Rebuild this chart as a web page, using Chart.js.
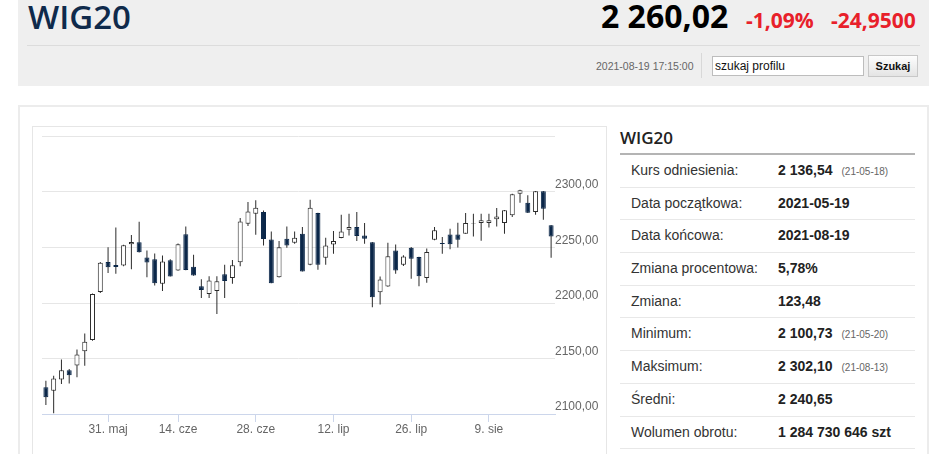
<!DOCTYPE html>
<html>
<head>
    <title>WIG20</title>
    <meta charset="UTF-8">
    <script src="https://cdn.jsdelivr.net/npm/chart.js"></script>
    <style>
        body {
            margin: 0;
            background-color: #fff;
            font-family: "Liberation Sans", Arial, sans-serif;
            width: 948px;
            height: 454px;
            overflow: hidden;
            position: relative;
        }
        .abs { position: absolute; white-space: nowrap; }
        .hdr {
            left: 18px; top: 0; width: 911px; height: 86px;
            background-color: #efefef;
        }
        .ttl {
            left: 28px; top: -6px; line-height: 45px;
            font-family: "Open Sans", sans-serif; font-weight: 600; font-size: 33px;
            color: #0f2a4b;
        }
        .price {
            left: 601px; top: -6px; line-height: 44px;
            font-family: "Open Sans", sans-serif; font-weight: 700; font-size: 32px;
            color: #000;
        }
        .chg {
            top: 5px; line-height: 30px;
            font-family: "Open Sans", sans-serif; font-weight: 700; font-size: 21px;
            color: #e8202a;
        }
        .sep { left: 27px; top: 45px; width: 893px; height: 1px; background: #dcdcdc; }
        .stamp { left: 596px; top: 59px; font-size: 10.5px; line-height: 14px; color: #666; }
        .vdiv { left: 701px; top: 53px; width: 1px; height: 25px; background: #d8d8d8; }
        .search {
            left: 712px; top: 56px; width: 152px; height: 20px; box-sizing: border-box;
            border: 1px solid #bdbdbd; background: #fff;
            font-size: 12px; line-height: 18px; padding-left: 2px; color: #111;
        }
        .btn {
            left: 868px; top: 55px; width: 50px; height: 22px; box-sizing: border-box;
            border: 1px solid #c8c8c8; background: linear-gradient(#fdfdfd, #e4e4e4);
            font-size: 11px; font-weight: bold; line-height: 20px; text-align: center; color: #111;
        }
        .panel {
            left: 18px; top: 105px; width: 911px; height: 370px; box-sizing: border-box;
            border: 2px solid #ececec;
        }
        .chart-box {
            left: 32px; top: 126px; width: 575px; height: 350px; box-sizing: border-box;
            border: 1px solid #e6e6e6;
        }
        .chart-wrap { left: 33px; top: 127px; width: 574px; height: 327px; }
        .info { left: 620px; top: 126px; width: 295px; }
        .info h2 {
            margin: 0; height: 27px; line-height: 23px;
            font-family: "Open Sans", sans-serif; font-weight: 600; font-size: 17px; color: #222;
            border-bottom: 2px solid #b4b4b4;
        }
        .row {
            position: relative; height: 31.7px; line-height: 31px;
            border-bottom: 1px solid #e8e8e8; font-size: 14px;
        }
        .row .lab { position: absolute; left: 11px; color: #333; }
        .row .val { position: absolute; left: 158px; color: #222; font-weight: bold; }
        .row .d { font-size: 10px; font-weight: normal; color: #666; margin-left: 9px; }
    </style>
</head>
<body>
    <div class="abs hdr"></div>
    <div class="abs ttl">WIG20</div>
    <div class="abs price">2 260,02</div>
    <div class="abs chg" style="left: 746px;">-1,09%</div>
    <div class="abs chg" style="left: 831px;">-24,9500</div>
    <div class="abs sep"></div>
    <div class="abs stamp">2021-08-19 17:15:00</div>
    <div class="abs vdiv"></div>
    <div class="abs search">szukaj profilu</div>
    <div class="abs btn">Szukaj</div>

    <div class="abs panel"></div>
    <div class="abs chart-box"></div>
    <div class="abs chart-wrap"><canvas id="candles"></canvas></div>

    <div class="abs info">
        <h2>WIG20</h2>
        <div class="row"><span class="lab">Kurs odniesienia:</span><span class="val">2 136,54<span class="d">(21-05-18)</span></span></div>
        <div class="row"><span class="lab">Data początkowa:</span><span class="val">2021-05-19</span></div>
        <div class="row"><span class="lab">Data końcowa:</span><span class="val">2021-08-19</span></div>
        <div class="row"><span class="lab">Zmiana procentowa:</span><span class="val">5,78%</span></div>
        <div class="row"><span class="lab">Zmiana:</span><span class="val">123,48</span></div>
        <div class="row"><span class="lab">Minimum:</span><span class="val">2 100,73<span class="d">(21-05-20)</span></span></div>
        <div class="row"><span class="lab">Maksimum:</span><span class="val">2 302,10<span class="d">(21-08-13)</span></span></div>
        <div class="row"><span class="lab">Średni:</span><span class="val">2 240,65</span></div>
        <div class="row"><span class="lab">Wolumen obrotu:</span><span class="val">1 284 730 646 szt</span></div>
    </div>

    <script>
        // sesje GPW (3 cze - Boze Cialo, bez sesji)
        const dates = [
            '2021-05-19','2021-05-20','2021-05-21','2021-05-24','2021-05-25','2021-05-26','2021-05-27','2021-05-28',
            '2021-05-31','2021-06-01','2021-06-02','2021-06-04','2021-06-07','2021-06-08','2021-06-09','2021-06-10','2021-06-11',
            '2021-06-14','2021-06-15','2021-06-16','2021-06-17','2021-06-18','2021-06-21','2021-06-22','2021-06-23','2021-06-24','2021-06-25',
            '2021-06-28','2021-06-29','2021-06-30','2021-07-01','2021-07-02','2021-07-05','2021-07-06','2021-07-07','2021-07-08','2021-07-09',
            '2021-07-12','2021-07-13','2021-07-14','2021-07-15','2021-07-16','2021-07-19','2021-07-20','2021-07-21','2021-07-22','2021-07-23',
            '2021-07-26','2021-07-27','2021-07-28','2021-07-29','2021-07-30','2021-08-02','2021-08-03','2021-08-04','2021-08-05','2021-08-06',
            '2021-08-09','2021-08-10','2021-08-11','2021-08-12','2021-08-13','2021-08-16','2021-08-17','2021-08-18','2021-08-19'
        ];
        const open = [
            2124, 2121, 2131, 2139.5, 2143.8, 2156.5, 2166.6, 2210,
            2237, 2234.3, 2233.8, 2253, 2254.8, 2241, 2239.4, 2217.3, 2238.5,
            2229.2, 2262, 2232.6, 2215.2, 2208.2, 2210.7, 2225.8, 2222.5, 2236.8, 2271.4,
            2280.4, 2281.9, 2257.3, 2223.2, 2257.9, 2254.2, 2262.4, 2234.4, 2281, 2240.7,
            2252.7, 2258.5, 2266, 2268.4, 2260.9, 2254.8, 2209.7, 2214.8, 2247.3, 2234.5,
            2249.8, 2241.4, 2222.5, 2257, 2254.1, 2261.6, 2261.6, 2262.5, 2271.2, 2272,
            2272, 2275.4, 2272, 2279, 2298.5, 2290.4, 2282, 2300.6, 2270
        ];
        const high = [
            2130, 2134.5, 2149, 2140.5, 2158, 2172.5, 2208.5, 2237,
            2250.3, 2268, 2252.5, 2261.2, 2273.2, 2247.2, 2244.5, 2242.7, 2239.5,
            2253.5, 2269, 2243.5, 2221.3, 2224.2, 2224, 2234.5, 2238.8, 2276.5, 2291,
            2292.5, 2283.4, 2264.5, 2255.8, 2269, 2264.5, 2268.4, 2293, 2281.2, 2258.8,
            2264.8, 2279.5, 2280.4, 2281.9, 2272, 2255, 2223.8, 2254.2, 2252.7, 2243,
            2250.4, 2241.6, 2249, 2268.5, 2259.5, 2267, 2272.4, 2281, 2280.5, 2280.5,
            2280.5, 2285.6, 2283.7, 2298.5, 2302.1, 2297, 2300.8, 2300.8, 2270.2
        ];
        const low = [
            2108, 2100.73, 2127, 2127.5, 2133, 2143.5, 2166, 2209,
            2227, 2226.3, 2233, 2230.5, 2245.5, 2223.3, 2215.8, 2210.7, 2223.8,
            2229, 2229.6, 2224.6, 2204.5, 2204.5, 2190, 2204.5, 2217.4, 2233.2, 2269.3,
            2261.5, 2251.8, 2217.8, 2223, 2249.7, 2253.3, 2228.3, 2234, 2230, 2234.4,
            2244.3, 2258.3, 2260.9, 2255.8, 2253.3, 2196.2, 2198.6, 2214.6, 2226.3, 2233.3,
            2221.9, 2215, 2218.3, 2256.5, 2244.4, 2248.4, 2249.9, 2262.3, 2260, 2256,
            2268, 2269, 2262.5, 2277.5, 2290.4, 2281, 2279.6, 2275, 2240.8
        ];
        const close = [
            2115, 2132, 2139.5, 2134.8, 2153.5, 2165, 2208, 2236.3,
            2232.2, 2232.5, 2252, 2255, 2245.8, 2236.5, 2217.8, 2237.3, 2223.9,
            2253, 2229.8, 2224.8, 2211.6, 2220.3, 2219.5, 2219.8, 2234, 2273.5, 2282.5,
            2285.9, 2257.6, 2217.9, 2250.3, 2251.8, 2258.8, 2228.4, 2285.9, 2234.4, 2251.8,
            2255.8, 2264.5, 2268.4, 2260.3, 2257.9, 2205.2, 2221.1, 2242.2, 2229.3, 2242,
            2239.9, 2224, 2246, 2265.5, 2253.2, 2252.9, 2257, 2272, 2271.6, 2274.5,
            2274.5, 2278, 2283.5, 2297.9, 2301.5, 2281.2, 2300.6, 2284.97, 2260.02
        ];

        // etykiety osi X (co dwa tygodnie)
        const tickDates = ['2021-05-31','2021-06-14','2021-06-28','2021-07-12','2021-07-26','2021-08-09'];
        const tickLabels = ['31. maj','14. cze','28. cze','12. lip','26. lip','9. sie'];
        const yTicks = [2100, 2150, 2200, 2250, 2300, 2350];

        const upColor = '#ffffff';
        const downColor = '#0b2749';
        const lineColor = '#2b2b2b';
        const axisColor = '#ccd6eb';

        function fmt(v) {
            return v.toFixed(2).replace('.', ',');
        }

        const isUp = close.map((c, i) => c >= open[i]);

        new Chart(document.getElementById('candles'), {
            type: 'bar',
            data: {
                labels: dates,
                datasets: [
                    {
                        // korpusy swiec
                        data: dates.map((d, i) => [open[i], close[i]]),
                        backgroundColor: isUp.map(u => u ? upColor : downColor),
                        borderColor: isUp.map(u => u ? lineColor : downColor),
                        borderWidth: 1,
                        borderSkipped: false,
                        barThickness: 5,
                        grouped: false,
                        inflateAmount: 0
                    },
                    {
                        // knoty
                        data: dates.map((d, i) => [low[i], high[i]]),
                        backgroundColor: lineColor,
                        borderWidth: 0,
                        barThickness: 1,
                        grouped: false,
                        inflateAmount: 0
                    }
                ]
            },
            options: {
                responsive: true,
                maintainAspectRatio: false,
                animation: false,
                layout: { padding: { left: 9, top: 9.5, right: 0, bottom: 0 } },
                plugins: {
                    legend: { display: false },
                    tooltip: { enabled: false }
                },
                scales: {
                    x: {
                        type: 'category',
                        offset: true,
                        afterFit: s => { s.height = 40; },
                        grid: {
                            offset: false,
                            drawOnChartArea: false,
                            drawTicks: true,
                            tickLength: 8,
                            color: ctx => tickDates.includes(dates[ctx.index]) ? axisColor : 'rgba(0,0,0,0)'
                        },
                        border: { display: true, color: axisColor },
                        ticks: {
                            autoSkip: false,
                            maxRotation: 0,
                            padding: 0,
                            color: '#666',
                            font: { family: '"Liberation Sans", Arial, sans-serif', size: 12 },
                            callback: (val, idx) => {
                                const k = tickDates.indexOf(dates[idx]);
                                return k >= 0 ? tickLabels[k] : '';
                            }
                        }
                    },
                    y: {
                        type: 'linear',
                        position: 'right',
                        min: yTicks[0],
                        max: yTicks[yTicks.length - 1],
                        afterFit: s => { s.width = 52; },
                        afterBuildTicks: s => { s.ticks = yTicks.map(v => ({ value: v })); },
                        grid: { color: '#e6e6e6', drawTicks: false, tickLength: 0 },
                        border: { display: false },
                        ticks: {
                            padding: 0,
                            labelOffset: -7,
                            color: '#666',
                            font: { family: '"Liberation Sans", Arial, sans-serif', size: 12 },
                            callback: v => v === 2350 ? '' : fmt(v)
                        }
                    }
                }
            }
        });
    </script>
</body>
</html>
